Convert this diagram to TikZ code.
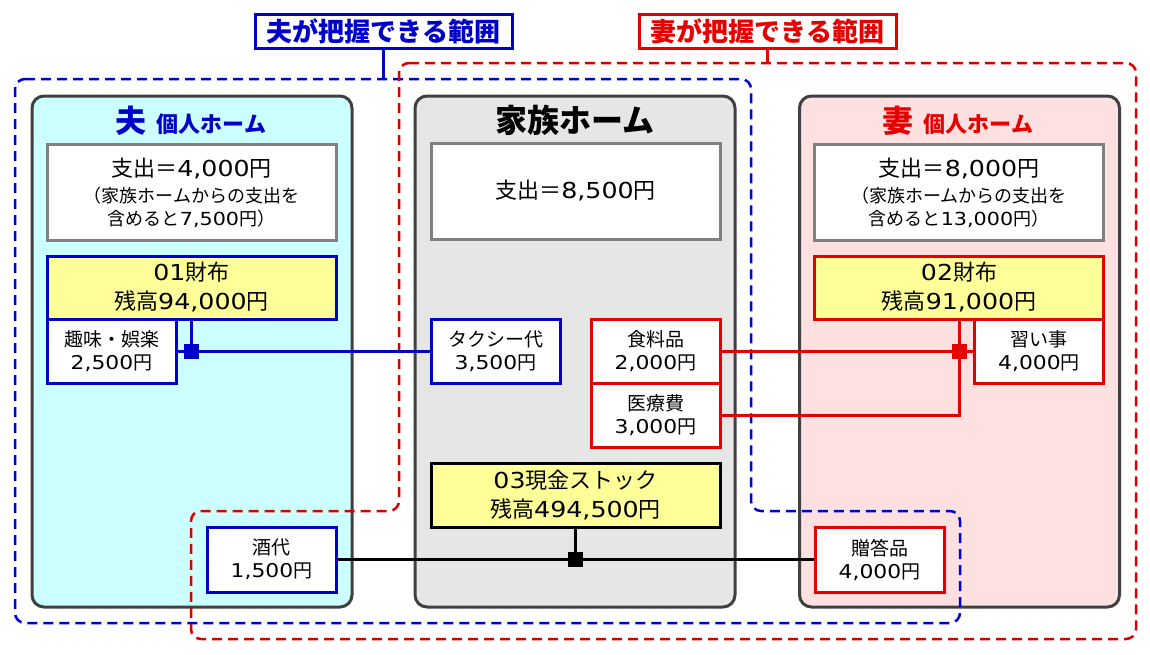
\documentclass[tikz,border=0pt]{standalone}
\usepackage{fontspec}
\setmainfont{Noto Sans CJK JP}
\newfontfamily\latn{DejaVu Sans}[FakeStretch=1.15]
\newcommand{\dg}[1]{{\latn #1}}
\definecolor{cblue}{RGB}{0,0,204}
\definecolor{cred}{RGB}{230,0,0}
\definecolor{dred}{RGB}{214,0,0}
\definecolor{pborder}{RGB}{64,64,64}
\definecolor{gborder}{RGB}{128,128,128}
\definecolor{pcyan}{RGB}{204,255,255}
\definecolor{pgray}{RGB}{230,230,230}
\definecolor{ppink}{RGB}{255,224,224}
\definecolor{yfill}{RGB}{255,255,153}
\tikzset{
  panel/.style={draw=pborder, line width=3pt, rounded corners=12pt, minimum width=320pt, minimum height=511pt, inner sep=0pt},
  graybox/.style={draw=gborder, fill=white, line width=3pt, minimum width=289pt, minimum height=96pt, align=center, inner sep=0pt, font=\fontsize{18}{23}\selectfont},
  ybox/.style={fill=yfill, line width=3pt, minimum width=289pt, minimum height=63pt, align=center, inner sep=0pt, font=\fontsize{22}{29}\selectfont},
  sbox/.style={fill=white, line width=3pt, minimum width=129pt, minimum height=64pt, align=center, inner sep=0pt, font=\fontsize{19}{23}\selectfont},
  conn/.style={line width=3pt},
  jsq/.style={minimum size=15pt, inner sep=0pt, draw=none},
  region/.style={line width=2.5pt, dash pattern=on 10pt off 6pt, rounded corners=10pt},
  lbl/.style={draw, fill=white, line width=3pt, minimum width=257pt, minimum height=34pt, inner sep=0pt, font=\fontsize{26}{30}\selectfont\bfseries},
  ttl/.style={inner sep=0pt, font=\bfseries}
}
\begin{document}
\begin{tikzpicture}[x=1pt,y=-1pt]
\useasboundingbox (0,0) rectangle (1150,654);
% panels
\node[panel, fill=pcyan] (p1) at (192,351.5) {};
\node[panel, fill=pgray] (p2) at (575,351.5) {};
\node[panel, fill=ppink] (p3) at (959.5,351.5) {};
% titles
\node[ttl, text=cblue, anchor=base] (t1) at (191,132) {\fontsize{31}{33}\selectfont 夫\hspace{10pt}\fontsize{22}{24}\selectfont 個人ホーム};
\node[ttl, anchor=base] (t2) at (575,132) {\fontsize{32}{34}\selectfont 家族ホーム};
\node[ttl, text=cred, anchor=base] (t3) at (958,132) {\fontsize{31}{33}\selectfont 妻\hspace{10pt}\fontsize{22}{24}\selectfont 個人ホーム};
% dashed regions
\draw[region, draw=cblue] (15,79) -- (751,79) -- (751,511) -- (960,511) -- (960,623) -- (15,623) -- cycle;
\draw[region, draw=dred] (399,63) -- (1136,63) -- (1136,639) -- (191,639) -- (191,511) -- (399,511) -- cycle;
% labels
\node[lbl, draw=cblue, text=cblue] (L1) at (383.5,31) {夫が把握できる範囲};
\node[lbl, draw=cred, text=cred] (L2) at (767.5,31.5) {妻が把握できる範囲};
\coordinate (c1) at (383.5,79);
\coordinate (c2) at (767.5,63);
\draw[cblue, line width=3pt] (L1.south) -- (c1);
\draw[cred, line width=3pt] (L2.south) -- (c2);
% gray boxes
\node[graybox] (g1) at (191.5,192.5) {{\fontsize{22}{26}\selectfont 支出＝\dg{4,000}円}\\[3pt]（家族ホームからの支出を\\含めると\dg{7,500}円）};
\node[graybox] (g2) at (575.5,191) {{\fontsize{22}{26}\selectfont 支出＝\dg{8,500}円}};
\node[graybox] (g3) at (959,192.5) {{\fontsize{22}{26}\selectfont 支出＝\dg{8,000}円}\\[3pt]（家族ホームからの支出を\\含めると\dg{13,000}円）};
% yellow boxes
\node[ybox, draw=cblue] (y1) at (191.5,287.5) {\dg{01}財布\\残高\dg{94,000}円};
\node[ybox, draw=cred] (y2) at (959,287.5) {\dg{02}財布\\残高\dg{91,000}円};
\node[ybox, draw=black, minimum height=64pt] (y3) at (575.5,495) {\dg{03}現金ストック\\残高\dg{494,500}円};
% small boxes
\node[sbox, draw=cblue] (s1) at (111.5,351) {趣味・娯楽\\\dg{2,500}円};
\node[sbox, draw=cblue] (s2) at (495.5,351) {タクシー代\\\dg{3,500}円};
\node[sbox, draw=cred] (s3) at (655.5,351) {食料品\\\dg{2,000}円};
\node[sbox, draw=cred] (s4) at (655.5,415) {医療費\\\dg{3,000}円};
\node[sbox, draw=cred] (s5) at (1039,351) {習い事\\\dg{4,000}円};
\node[sbox, draw=cblue, minimum height=65pt] (s6) at (271.5,559.5) {酒代\\\dg{1,500}円};
\node[sbox, draw=cred, minimum height=65pt] (s7) at (879.5,559.5) {贈答品\\\dg{4,000}円};
% junctions
\coordinate (j1) at (191.5,351);
\coordinate (j2) at (959,351);
\coordinate (j3) at (575.5,559.5);
% connectors
\draw[conn, cblue] (y1.south) -- (j1);
\draw[conn, cblue] (s1.east) -- (s2.west);
\draw[conn, cred] (y2.south) -- (j2) -- (j2 |- s4.east) -- (s4.east);
\draw[conn, cred] (s3.east) -- (s5.west);
\draw[conn, black] (y3.south) -- (j3);
\draw[conn, black] (s6.east) -- (s7.west);
\node[jsq, fill=cblue] (q1) at (j1) {};
\node[jsq, fill=cred] (q2) at (j2) {};
\node[jsq, fill=black] (q3) at (j3) {};
\end{tikzpicture}
\end{document}
